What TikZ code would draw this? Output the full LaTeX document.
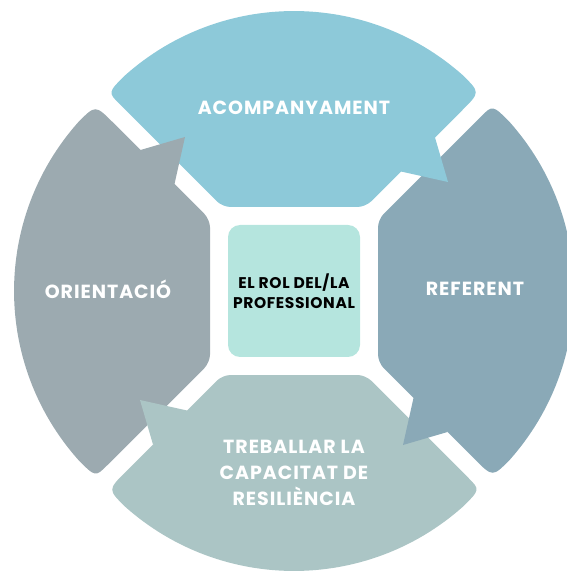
\documentclass[tikz,border=0pt]{standalone}
\usepackage{fontspec}
\setmainfont{Poppins}
\usepackage{tikz}
\usetikzlibrary{positioning}
\definecolor{acomp}{HTML}{8DC9D9}
\definecolor{refer}{HTML}{8AA9B7}
\definecolor{resil}{HTML}{ABC5C5}
\definecolor{orient}{HTML}{9CAAB0}
\definecolor{rol}{HTML}{B5E5DE}

\begin{document}
\begin{tikzpicture}[x=1pt,y=1pt,
  petaltext/.style={text=white,font=\bfseries\fontsize{19}{26}\selectfont\addfontfeatures{LetterSpace=5},align=center,inner sep=0.75pt},
  rolbox/.style={fill=rol,rounded corners=12pt,minimum width=132pt,minimum height=132pt,inner sep=0pt,
    font=\bfseries\fontsize{15.5}{20}\selectfont\addfontfeatures{LetterSpace=4},align=center}]
\useasboundingbox (-294,-281) rectangle (272,291);

%Petals (body)
\foreach \ang/\col in {0/acomp,-90/refer,180/resil,90/orient}{
\fill[\col,rotate=\ang] (-168.3,216.2) arc[start angle=131.5,end angle=48.5,radius=254] .. controls (186.2,198.7) .. (168.5,181) [rounded corners=8pt] -- (71.5,84) -- (-71.5,84) -- (-168.5,181) [sharp corners] .. controls (-186.2,198.7) .. (-168.3,216.2) -- cycle;
}
%Petals (tails, drawn over the next petal)
\foreach \ang/\col in {0/acomp,-90/refer,180/resil,90/orient}{
\fill[\col,rotate=\ang] (100,130) -- (107,119.5) -- (154,109) -- (141,153.5) -- cycle;
}

% Centre box
\node[rolbox] (rol) at (0,0) {EL ROL DEL/LA\\PROFESSIONAL};
% Text Nodes
\node[petaltext] (acompanyament) at (0,183) {ACOMPANYAMENT};
\node[petaltext] (referent) at (181,2) {REFERENT};
\node[petaltext] (orientacio) at (-186,2) {ORIENTACIÓ};
\node[petaltext] (resiliencia) at (0,-182) {TREBALLAR LA\\CAPACITAT DE\\RESILIÈNCIA};

\end{tikzpicture}
\end{document}
